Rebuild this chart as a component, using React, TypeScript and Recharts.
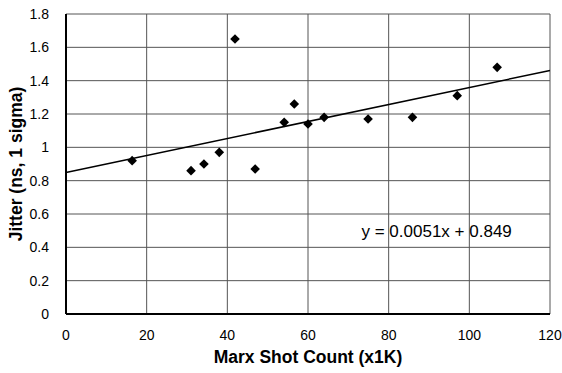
import React from 'react';
import {
  ScatterChart,
  Scatter,
  XAxis,
  YAxis,
  CartesianGrid,
  ReferenceDot,
} from 'recharts';

const shotCount = [16.4, 31.0, 34.2, 38.0, 41.9, 46.9, 54.1, 56.6, 60.0, 64.0, 74.9, 85.9, 97.0, 106.9];
const jitter = [0.92, 0.86, 0.9, 0.97, 1.65, 0.87, 1.15, 1.26, 1.14, 1.18, 1.17, 1.18, 1.31, 1.48];

const trendX = [0, 120];
const trendY = [0.849, 1.461];

const xTicks = [0, 20, 40, 60, 80, 100, 120];
const yTicks = [0, 0.2, 0.4, 0.6, 0.8, 1, 1.2, 1.4, 1.6, 1.8];

const equationLabel = 'y = 0.0051x + 0.849';
const equationPos = { x: 91.9, y: 0.5 };

const points = shotCount.map((x, i) => ({ x, y: jitter[i] }));
const trend = trendX.map((x, i) => ({ x, y: trendY[i] }));

const FONT = '"Liberation Sans", Arial, sans-serif';

const Diamond = (props: any) => {
  const { cx, cy } = props;
  if (cx == null || cy == null) return null;
  const r = 4.8;
  return (
    <polygon
      points={`${cx},${cy - r} ${cx + r},${cy} ${cx},${cy + r} ${cx - r},${cy}`}
      fill="#000"
    />
  );
};

export default function App() {
  return (
    <div style={{ position: 'absolute', left: 0, top: 0, background: '#fff' }}>
      <ScatterChart
        width={562}
        height={373}
        margin={{ top: 14, right: 12, bottom: 0, left: 0 }}
        style={{ fontFamily: FONT }}
      >
        <CartesianGrid stroke="#555" strokeWidth={1} />
        <XAxis
          type="number"
          dataKey="x"
          domain={[0, 120]}
          ticks={xTicks}
          interval={0}
          height={59}
          tickLine={false}
          axisLine={{ stroke: '#000', strokeWidth: 2 }}
          tick={{ fill: '#000', fontSize: 14, fontFamily: FONT }}
          tickMargin={10}
          label={{
            value: 'Marx Shot Count (x1K)',
            position: 'insideBottom',
            offset: 10,
            style: { fill: '#000', fontSize: 17.5, fontWeight: 'bold', fontFamily: FONT },
          }}
        />
        <YAxis
          type="number"
          dataKey="y"
          domain={[0, 1.8]}
          ticks={yTicks}
          interval={0}
          width={66}
          tickLine={false}
          axisLine={{ stroke: '#000', strokeWidth: 2 }}
          tick={{ fill: '#000', fontSize: 14, fontFamily: FONT }}
          tickMargin={11}
          label={{
            value: 'Jitter (ns, 1 sigma)',
            angle: -90,
            position: 'insideLeft',
            offset: 16,
            style: { fill: '#000', fontSize: 17.5, fontWeight: 'bold', fontFamily: FONT, textAnchor: 'middle' },
          }}
        />
        <Scatter
          data={trend}
          line={{ stroke: '#000', strokeWidth: 1.5 }}
          shape={() => null}
          isAnimationActive={false}
          legendType="none"
        />
        <Scatter data={points} shape={Diamond} isAnimationActive={false} />
        <ReferenceDot
          x={equationPos.x}
          y={equationPos.y}
          r={0}
          stroke="none"
          fill="none"
          label={{
            value: equationLabel,
            position: 'center',
            style: { fill: '#000', fontSize: 17, fontFamily: FONT },
          }}
        />
      </ScatterChart>
    </div>
  );
}
